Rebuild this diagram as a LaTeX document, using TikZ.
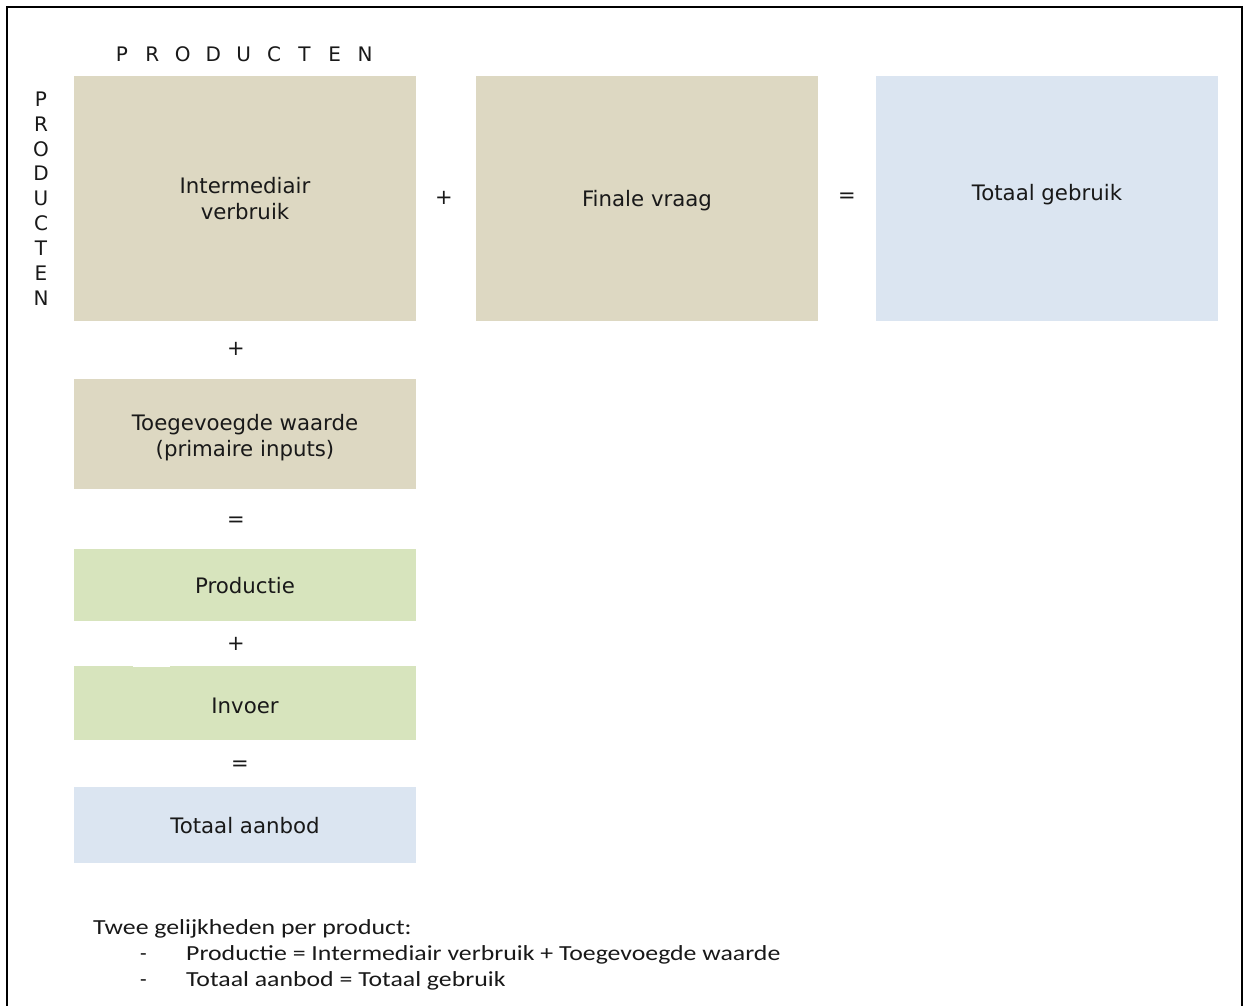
\documentclass[tikz,border=0pt]{standalone}
\usepackage{fontspec}
\setmainfont{DejaVu Sans}
\newfontfamily\calib{Carlito}
\definecolor{tan}{RGB}{221,216,194}
\definecolor{lblue}{RGB}{219,229,241}
\definecolor{lgreen}{RGB}{215,228,189}
\definecolor{ink}{RGB}{25,25,25}
\newcommand{\wide}[1]{\scalebox{1.2}[1]{#1}}
\begin{document}
\begin{tikzpicture}[x=1pt,y=-1pt,
  box/.style={minimum width=342pt,inner sep=0pt},
  lbl/.style={inner sep=0pt,align=center,text=ink,font=\fontsize{21.3}{25.5}\selectfont},
  op/.style={inner sep=1pt,text=ink,font=\fontsize{21}{26}\selectfont},
  lett/.style={inner sep=0pt,text=ink,font=\fontsize{20}{22}\selectfont},
  note/.style={inner sep=0pt,anchor=base west,text=ink,font=\calib\fontsize{21.5}{26}\selectfont}]
\useasboundingbox (0,0) rectangle (1244,1005);
\fill[white] (0,0) rectangle (1244,1005);
\draw[line width=2pt] (7,1015) -- (7,6.5) -- (1241.5,6.5) -- (1241.5,1015);
% heading letters
\foreach \l [count=\i] in {P,R,O,D,U,C,T,E,N}{
  \node[lett] (h\i) at ({122+(\i-1)*30.4},54) {\l};
  \node[lett] (v\i) at (41,{99+(\i-1)*24.9}) {\l};
}
% boxes
\node[box,fill=tan,minimum height=245pt] (iv) at (245,198.5) {};
\node[box,fill=tan,minimum height=245pt] (fv) at (647,198.5) {};
\node[box,fill=lblue,minimum height=245pt] (tg) at (1047,198.5) {};
\node[box,fill=tan,minimum height=110pt] (tw) at (245,434) {};
\node[box,fill=lgreen,minimum height=72pt] (pr) at (245,585) {};
\node[box,fill=lgreen,minimum height=74pt] (in) at (245,703) {};
\node[box,fill=lblue,minimum height=76pt] (ta) at (245,825) {};
% labels
\node[lbl] (ivt) at ([yshift=0pt]iv.center) {Intermediair\\verbruik};
\node[lbl] (fvt) at ([yshift=-2pt]fv.center) {Finale vraag};
\node[lbl] (tgt) at ([yshift=4pt]tg.center) {Totaal gebruik};
\node[lbl] (twt) at ([yshift=-3.5pt]tw.center) {Toegevoegde waarde\\(primaire inputs)};
\node[lbl] (prt) at ([yshift=-1pt]pr.center) {Productie};
\node[lbl] (int) at ([yshift=-3pt]in.center) {Invoer};
\node[lbl] (tat) at ([yshift=-1pt]ta.center) {Totaal aanbod};
% operators
\node[op] (p1) at (444,198) {+};
\node[op] (e1) at (847,198) {=};
\node[op] (p2) at (236,349) {+};
\node[op] (e2) at (236,522) {=};
\node[op,fill=white,minimum width=37pt,minimum height=22pt] (p3) at (151.5,656) {};
\node[op] (p3t) at (236,644) {+};
\node[op] (e3) at (240,766) {=};
% notes
\node[note] (n0) at (93,934) {\wide{Twee gelijkheden per product:}};
\node[note] (d1) at (140,960) {-};
\node[note] (n1) at (186,960) {\wide{Productie = Intermediair verbruik + Toegevoegde waarde}};
\node[note] (d2) at (140,986) {-};
\node[note] (n2) at (186,986) {\wide{Totaal aanbod = Totaal gebruik}};
\end{tikzpicture}
\end{document}
